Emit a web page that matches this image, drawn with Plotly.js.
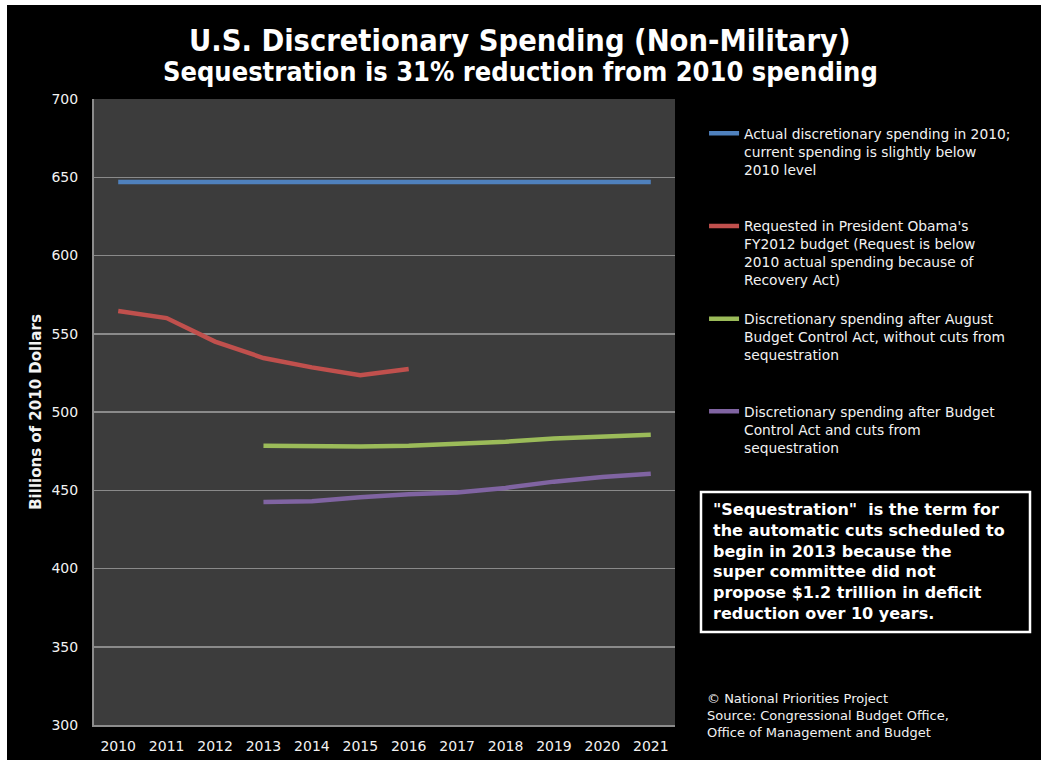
<!DOCTYPE html>
<html>
<head>
<meta charset="utf-8">
<script src="https://cdn.plot.ly/plotly-3.0.1.min.js"></script>
<style>html,body{margin:0;padding:0;background:#000;}#chart{width:1041px;height:760px;}</style>
</head>
<body>
<div id="chart"></div>
<script>
// ---- data ----
var years = [2010, 2011, 2012, 2013, 2014, 2015, 2016, 2017, 2018, 2019, 2020, 2021];
var actual2010 = [647, 647, 647, 647, 647, 647, 647, 647, 647, 647, 647, 647];
var obamaRequest = [564.5, 560, 545, 534.5, 528.5, 523.5, 527.5, null, null, null, null, null];
var bcaNoSeq = [null, null, null, 478.5, 478, 478, 478.5, 479.5, 481, 483, 484, 485.5];
var bcaWithSeq = [null, null, null, 442.5, 443, 445.5, 447.5, 448.5, 451.5, 455.5, 458.5, 460.5];
var seriesNames = [
  "Actual discretionary spending in 2010;<br>current spending is slightly below<br>2010 level<br> <br> ",
  "Requested in President Obama's<br>FY2012 budget (Request is below<br>2010 actual spending because of<br>Recovery Act)<br> ",
  "Discretionary spending after August<br>Budget Control Act, without cuts from<br>sequestration<br> <br> ",
  "Discretionary spending after Budget<br>Control Act and cuts from<br>sequestration"
];
var seriesColors = ["#4F81BD", "#C0504D", "#9BBB59", "#8064A2"];
var yTicks = [300, 350, 400, 450, 500, 550, 600, 650, 700];

var FONT = "DejaVu Sans, Verdana, sans-serif";
var TFONT = "DejaVu Sans Condensed, DejaVu Sans, sans-serif";
var TXT = "#f2f2f2";

var allSeries = [actual2010, obamaRequest, bcaNoSeq, bcaWithSeq];
var traces = allSeries.map(function (vals, i) {
  return {
    x: years, y: vals, type: "scatter", mode: "lines",
    name: seriesNames[i],
    line: {color: seriesColors[i], width: 4.5},
    connectgaps: false,
    hoverinfo: "x+y"
  };
});

var layout = {
  width: 1041, height: 760,
  paper_bgcolor: "#000000",
  plot_bgcolor: "#3c3c3c",
  margin: {l: 94, r: 366, t: 99, b: 35},
  showlegend: true,
  legend: {
    x: 1.05, xanchor: "left", y: 0.970, yanchor: "top",
    valign: "top",
    bgcolor: "rgba(0,0,0,0)",
    font: {family: FONT, size: 13.8, color: TXT},
    itemwidth: 30
  },
  xaxis: {
    range: [2009.5, 2021.5],
    tickvals: years, ticktext: years.map(String),
    showgrid: false, zeroline: false,
    showline: true, linecolor: "#8c8c8c", linewidth: 2,
    ticks: "", ticklabelstandoff: 7,
    tickfont: {family: FONT, size: 14, color: TXT},
    fixedrange: true
  },
  yaxis: {
    range: [300, 700],
    tickvals: yTicks,
    showgrid: true, gridcolor: "#8a8a8a", gridwidth: 1.5,
    zeroline: false,
    showline: true, linecolor: "#8c8c8c", linewidth: 2,
    ticks: "", ticklabelstandoff: 11,
    tickfont: {family: FONT, size: 14, color: TXT},
    title: {text: "<b>Billions of 2010 Dollars</b>", font: {family: FONT, size: 15, color: TXT}, standoff: 6},
    fixedrange: true
  },
  shapes: [
    {type: "rect", xref: "paper", yref: "paper", x0: -0.2, x1: 1.7, y0: (725 - 5) / 626, y1: 1.2, fillcolor: "#ffffff", line: {width: 0}, layer: "below"},
    {type: "rect", xref: "paper", yref: "paper", x0: -0.2, x1: (7 - 94) / 581, y0: -0.1, y1: 1.2, fillcolor: "#ffffff", line: {width: 0}, layer: "below"},
    {type: "rect", xref: "paper", yref: "paper",
     x0: (701 - 94) / 581, x1: (1030 - 94) / 581, y0: (725 - 632) / 626, y1: (725 - 492) / 626,
     fillcolor: "#000000", line: {color: "#ffffff", width: 2.5}, layer: "above"}
  ],
  annotations: [
    {xref: "paper", yref: "paper", x: (519 - 94) / 581, y: (725 - 40) / 626, xanchor: "center", yanchor: "middle",
     text: "<b>U.S. Discretionary Spending (Non-Military)</b>", showarrow: false,
     font: {family: TFONT, size: 30.5, color: "#ffffff"}},
    {xref: "paper", yref: "paper", x: (520 - 94) / 581, y: (725 - 71) / 626, xanchor: "center", yanchor: "middle",
     text: "<b>Sequestration is 31% reduction from 2010 spending</b>", showarrow: false,
     font: {family: TFONT, size: 27, color: "#ffffff"}},
    {xref: "paper", yref: "paper", x: (711 - 94) / 581, y: (725 - 498) / 626, xanchor: "left", yanchor: "top", align: "left",
     text: "<b>\"Sequestration\"  is the term for<br>the automatic cuts scheduled to<br>begin in 2013 because the<br>super committee did not<br>propose $1.2 trillion in deficit<br>reduction over 10 years.</b>",
     showarrow: false, font: {family: FONT, size: 16, color: "#ffffff"}},
    {xref: "paper", yref: "paper", x: (705 - 94) / 581, y: (725 - 689) / 626, xanchor: "left", yanchor: "top", align: "left",
     text: "© National Priorities Project<br>Source: Congressional Budget Office,<br>Office of Management and Budget",
     showarrow: false, font: {family: FONT, size: 13, color: TXT}}
  ]
};

Plotly.newPlot("chart", traces, layout, {displayModeBar: false, staticPlot: true});
</script>
</body>
</html>
